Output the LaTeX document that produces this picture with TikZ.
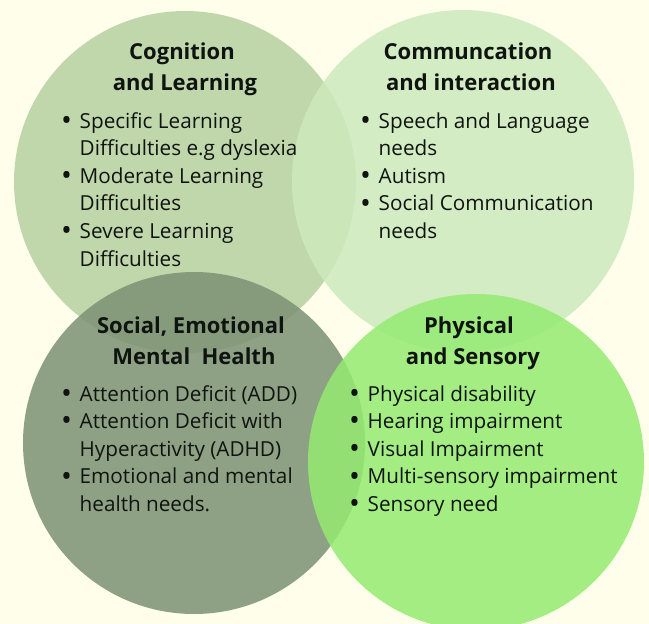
\documentclass[tikz,border=0pt]{standalone}
\usepackage{fontspec}
\setmainfont{Open Sans}
\usepackage{xcolor}
\usetikzlibrary{positioning}

\definecolor{bgcream}{HTML}{FEFEEA}
\definecolor{cogfill}{HTML}{B6D1A2}
\definecolor{comfill}{HTML}{CDEABD}
\definecolor{semfill}{HTML}{7B9174}
\definecolor{physfill}{HTML}{94EB72}
\definecolor{inktext}{HTML}{101410}

\newcommand{\bul}{\makebox[18.5pt][l]{\raisebox{-2.2pt}{\scalebox{1.4}{\textbullet}}}}
\newcommand{\nobul}{\hspace*{18.5pt}}

\begin{document}
\begin{tikzpicture}[
    x=1pt, y=-1pt,
    circ/.style={circle, draw=none, minimum size=342pt, inner sep=0pt, fill opacity=0.85},
    head/.style={font=\bfseries\fontsize{22}{31}\selectfont, anchor=base, inner sep=0pt, text=inktext},
    entry/.style={font=\fontsize{20.7}{27.6}\selectfont, anchor=base west, inner sep=0pt, text=inktext}
  ]

  % Background
  \fill[bgcream] (0,0) rectangle (649,624);
  \useasboundingbox (0,0) rectangle (649,624);

  % Main circles
  \node[circ, fill=cogfill] (cog) at (185,182) {};
  \node[circ, fill=comfill] (com) at (463,181) {};
  \node[circ, fill=semfill] (sem) at (194,443) {};
  \node[circ, fill=physfill, minimum size=336pt] (phys) at (476,462) {};

  % Headings
  \node[head] (cog_h1) at (182,59) {Cognition};
  \node[head] (cog_h2) at (185,90) {and Learning};
  \node[head] (com_h1) at (468,59) {Communcation};
  \node[head] (com_h2) at (471,90) {and interaction};
  \node[head] (sem_h1) at (191,333) {Social, Emotional};
  \node[head] (sem_h2) at (194,364) {Mental\ \ Health};
  \node[head] (phys_h1) at (469,333) {Physical};
  \node[head] (phys_h2) at (473,364) {and Sensory};

  % Bullet lists
  \foreach \b/\t [count=\i from 0] in {1/Specific Learning, 0/Difficulties e.g dyslexia,
      1/Moderate Learning, 0/Difficulties, 1/Severe Learning, 0/Difficulties}
    \node[entry] (cog_l\i) at (61,128+27.6*\i) {\ifnum\b=1 \bul\else\nobul\fi\t};

  \foreach \b/\t [count=\i from 0] in {1/Speech and Language, 0/needs, 1/Autism,
      1/Social Communication, 0/needs}
    \node[entry] (com_l\i) at (360,128+27.6*\i) {\ifnum\b=1 \bul\else\nobul\fi\t};

  \foreach \b/\t [count=\i from 0] in {1/Attention Deficit (ADD), 1/Attention Deficit with,
      0/Hyperactivity (ADHD), 1/Emotional and mental, 0/health needs.}
    \node[entry] (sem_l\i) at (61,401+27.6*\i) {\ifnum\b=1 \bul\else\nobul\fi\t};

  \foreach \b/\t [count=\i from 0] in {1/Physical disability, 1/Hearing impairment,
      1/Visual Impairment, 1/Multi-sensory impairment, 1/Sensory need}
    \node[entry] (phys_l\i) at (349,401+27.6*\i) {\ifnum\b=1 \bul\else\nobul\fi\t};

\end{tikzpicture}
\end{document}
